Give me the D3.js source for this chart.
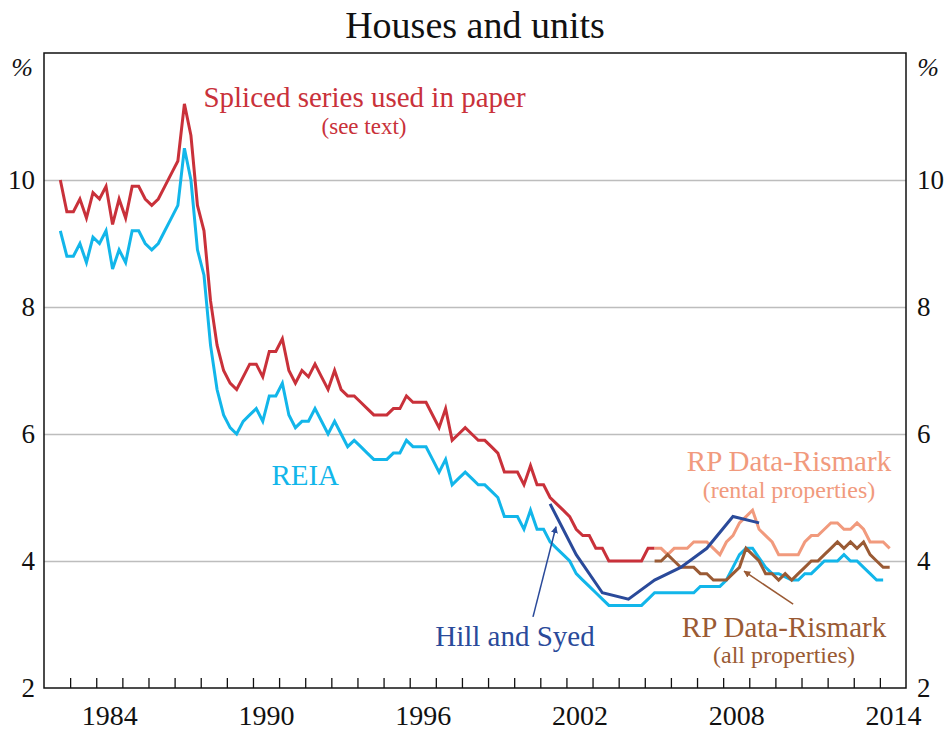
<!DOCTYPE html>
<html>
<head>
<meta charset="utf-8">
<script src="https://cdn.jsdelivr.net/npm/d3@7"></script>
<style>
  html, body { margin: 0; padding: 0; background: #fff; }
  svg { display: block; font-family: "Liberation Serif", "Times New Roman", serif; }
</style>
</head>
<body>
<div id="viz"></div>
<script>
var width = 950,
    height = 731;

var margin = {top: 53, right: 44, bottom: 43, left: 44}; // frame at 44..906, 53..688

// quarterly series, first point is Q3 1982 (plotted mid-quarter)
var splicedStart = 1982.625;
var spliced = [10.0, 9.5, 9.5, 9.7, 9.4, 9.8, 9.7, 9.9, 9.3, 9.7, 9.4, 9.9, 9.9, 9.7, 9.6, 9.7,
    9.9, 10.1, 10.3, 11.2, 10.7, 9.6, 9.2, 8.1, 7.4, 7.0, 6.8, 6.7, 6.9, 7.1, 7.1, 6.9,
    7.3, 7.3, 7.5, 7.0, 6.8, 7.0, 6.9, 7.1, 6.9, 6.7, 7.0, 6.7, 6.6, 6.6, 6.5, 6.4,
    6.3, 6.3, 6.3, 6.4, 6.4, 6.6, 6.5, 6.5, 6.5, 6.3, 6.1, 6.4, 5.9, 6.0, 6.1, 6.0,
    5.9, 5.9, 5.8, 5.7, 5.4, 5.4, 5.4, 5.2, 5.5, 5.2, 5.2, 5.0, 4.9, 4.8, 4.7, 4.5,
    4.4, 4.4, 4.2, 4.2, 4.0, 4.0, 4.0, 4.0, 4.0, 4.0, 4.2, 4.2];

var reiaStart = 1982.625;
var reia = [9.2, 8.8, 8.8, 9.0, 8.7, 9.1, 9.0, 9.2, 8.6, 8.9, 8.7, 9.2, 9.2, 9.0, 8.9, 9.0,
    9.2, 9.4, 9.6, 10.5, 10.0, 8.9, 8.5, 7.4, 6.7, 6.3, 6.1, 6.0, 6.2, 6.3, 6.4, 6.2,
    6.6, 6.6, 6.8, 6.3, 6.1, 6.2, 6.2, 6.4, 6.2, 6.0, 6.2, 6.0, 5.8, 5.9, 5.8, 5.7,
    5.6, 5.6, 5.6, 5.7, 5.7, 5.9, 5.8, 5.8, 5.8, 5.6, 5.4, 5.6, 5.2, 5.3, 5.4, 5.3,
    5.2, 5.2, 5.1, 5.0, 4.7, 4.7, 4.7, 4.5, 4.8, 4.5, 4.5, 4.3, 4.2, 4.1, 4.0, 3.8,
    3.7, 3.6, 3.5, 3.4, 3.3, 3.3, 3.3, 3.3, 3.3, 3.3, 3.4, 3.5, 3.5, 3.5, 3.5, 3.5,
    3.5, 3.5, 3.6, 3.6, 3.6, 3.6, 3.7, 3.9, 4.1, 4.2, 4.2, 4.05, 3.9, 3.8, 3.8, 3.75,
    3.7, 3.7, 3.8, 3.8, 3.9, 4.0, 4.0, 4.0, 4.1, 4.0, 4.0, 3.9, 3.8, 3.7, 3.7];

// RP Data-Rismark, from Q2 2005
var rpStart = 2005.375;
var rpRental = [4.2, 4.2, 4.1, 4.2, 4.2, 4.2, 4.3, 4.3, 4.3, 4.2, 4.1, 4.3, 4.4, 4.6, 4.7, 4.8,
    4.5, 4.4, 4.3, 4.1, 4.1, 4.1, 4.1, 4.3, 4.4, 4.4, 4.5, 4.6, 4.6, 4.5, 4.5, 4.6,
    4.5, 4.3, 4.3, 4.3, 4.2];
var rpAll = [4.0, 4.0, 4.1, 4.0, 3.9, 3.9, 3.9, 3.8, 3.8, 3.7, 3.7, 3.7, 3.8, 3.9, 4.2, 4.1,
    4.0, 3.8, 3.8, 3.7, 3.8, 3.7, 3.8, 3.9, 4.0, 4.0, 4.1, 4.2, 4.3, 4.2, 4.3, 4.2,
    4.3, 4.1, 4.0, 3.9, 3.9];

// Hill and Syed, annual
var hillYears = [2001.375, 2002.375, 2003.375, 2004.375, 2005.375, 2006.375, 2007.375, 2008.375, 2009.375];
var hill = [4.9, 4.1, 3.5, 3.4, 3.7, 3.9, 4.2, 4.7, 4.6];

var yearTicks = d3.range(1983, 2015);
var yearLabels = [1984, 1990, 1996, 2002, 2008, 2014];
var yTicks = [2, 4, 6, 8, 10];
var gridValues = [4, 6, 8, 10];

var colors = {
    spliced: "#c9313a",
    reia: "#12b6ea",
    hill: "#2a4a9a",
    rental: "#f19a7d",
    all: "#9a5a34"
};

function toPoints(start, values) {
    return values.map(function(v, i) { return {t: start + i * 0.25, v: v}; });
}

var svg = d3.select("#viz").append("svg")
    .attr("width", width)
    .attr("height", height);

var x = d3.scaleLinear().domain([1982, 2015]).range([margin.left, width - margin.right]);
var y = d3.scaleLinear().domain([2, 12]).range([height - margin.bottom, margin.top]);

// title
svg.append("text")
    .attr("x", width / 2)
    .attr("y", 38)
    .attr("text-anchor", "middle")
    .attr("font-size", 38)
    .attr("fill", "#111")
    .text("Houses and units");

// horizontal gridlines
svg.append("g")
    .attr("class", "grid")
    .attr("transform", "translate(" + margin.left + ",0)")
    .call(d3.axisLeft(y).tickValues(gridValues).tickSize(-(width - margin.left - margin.right)).tickFormat(""))
    .call(function(g) { g.select(".domain").remove(); })
    .selectAll("line")
    .attr("stroke", "#bdbdbd")
    .attr("stroke-width", 1.5);

// y tick labels both sides
var yLeft = svg.append("g")
    .attr("transform", "translate(" + margin.left + ",0)")
    .call(d3.axisLeft(y).tickValues(yTicks).tickSize(0).tickPadding(9));
var yRight = svg.append("g")
    .attr("transform", "translate(" + (width - margin.right) + ",0)")
    .call(d3.axisRight(y).tickValues(yTicks).tickSize(0).tickPadding(11));
[yLeft, yRight].forEach(function(g) {
    g.select(".domain").remove();
    g.selectAll("text")
        .attr("font-family", "Liberation Serif, serif")
        .attr("font-size", 27)
        .attr("fill", "#111");
});

svg.append("text").attr("x", 22).attr("y", 76).attr("text-anchor", "middle")
    .attr("font-size", 26).attr("font-style", "italic").attr("fill", "#111").text("%");
svg.append("text").attr("x", 928).attr("y", 76).attr("text-anchor", "middle")
    .attr("font-size", 26).attr("font-style", "italic").attr("fill", "#111").text("%");

// x ticks (inside, pointing up)
var xTicks = svg.append("g")
    .attr("transform", "translate(0," + (height - margin.bottom) + ")")
    .call(d3.axisBottom(x).tickValues(yearTicks).tickSize(-10).tickFormat(""));
xTicks.select(".domain").remove();
xTicks.selectAll("line").attr("stroke", "#111").attr("stroke-width", 1.3);

// year labels centred in the year
var xLab = svg.append("g")
    .attr("transform", "translate(0," + (height - margin.bottom) + ")")
    .call(d3.axisBottom(x).tickValues(yearLabels.map(function(d) { return d + 0.5; }))
        .tickSize(0).tickPadding(17).tickFormat(function(d) { return Math.floor(d); }));
xLab.select(".domain").remove();
xLab.selectAll("text")
    .attr("font-family", "Liberation Serif, serif")
    .attr("font-size", 28)
    .attr("fill", "#111");

// lines
var line = d3.line()
    .x(function(d) { return x(d.t); })
    .y(function(d) { return y(d.v); });

var series = [
    {key: "reia", data: toPoints(reiaStart, reia)},
    {key: "spliced", data: toPoints(splicedStart, spliced)},
    {key: "rental", data: toPoints(rpStart, rpRental)},
    {key: "all", data: toPoints(rpStart, rpAll)},
    {key: "hill", data: hillYears.map(function(t, i) { return {t: t, v: hill[i]}; })}
];

svg.append("g")
    .attr("class", "lines")
    .selectAll("path")
    .data(series)
    .enter().append("path")
    .attr("d", function(d) { return line(d.data); })
    .attr("fill", "none")
    .attr("stroke", function(d) { return colors[d.key]; })
    .attr("stroke-width", 3)
    .attr("stroke-linejoin", "miter");

// frame
svg.append("rect")
    .attr("x", margin.left)
    .attr("y", margin.top)
    .attr("width", width - margin.left - margin.right)
    .attr("height", height - margin.top - margin.bottom)
    .attr("fill", "none")
    .attr("stroke", "#111")
    .attr("stroke-width", 1.5);

// arrow markers
var defs = svg.append("defs");
["hill", "all"].forEach(function(k) {
    defs.append("marker")
        .attr("id", "arrow-" + k)
        .attr("viewBox", "0 -5 10 10")
        .attr("refX", 9)
        .attr("refY", 0)
        .attr("markerWidth", 7)
        .attr("markerHeight", 7)
        .attr("markerUnits", "userSpaceOnUse")
        .attr("orient", "auto")
        .append("path")
        .attr("d", "M0,-5L10,0L0,5Z")
        .attr("fill", colors[k]);
});

var arrows = [
    {key: "hill", from: [2000.72, 3.12], to: [2001.6, 4.54]},
    {key: "all", from: [2010.68, 3.32], to: [2008.8, 3.84]}
];
svg.append("g").selectAll("line")
    .data(arrows)
    .enter().append("line")
    .attr("x1", function(d) { return x(d.from[0]); })
    .attr("y1", function(d) { return y(d.from[1]); })
    .attr("x2", function(d) { return x(d.to[0]); })
    .attr("y2", function(d) { return y(d.to[1]); })
    .attr("stroke", function(d) { return colors[d.key]; })
    .attr("stroke-width", 1.5)
    .attr("marker-end", function(d) { return "url(#arrow-" + d.key + ")"; });

// series labels
var labels = [
    {key: "spliced", text: "Spliced series used in paper", t: 1994.27, v: 11.15, size: 29},
    {key: "spliced", text: "(see text)", t: 1994.25, v: 10.72, size: 23},
    {key: "reia", text: "REIA", t: 1992.0, v: 5.2, size: 29},
    {key: "hill", text: "Hill and Syed", t: 2000.03, v: 2.66, size: 29},
    {key: "rental", text: "RP Data-Rismark", t: 2010.52, v: 5.41, size: 29},
    {key: "rental", text: "(rental properties)", t: 2010.52, v: 5.0, size: 24},
    {key: "all", text: "RP Data-Rismark", t: 2010.33, v: 2.81, size: 29},
    {key: "all", text: "(all properties)", t: 2010.33, v: 2.4, size: 24}
];
svg.append("g").selectAll("text")
    .data(labels)
    .enter().append("text")
    .attr("x", function(d) { return x(d.t); })
    .attr("y", function(d) { return y(d.v); })
    .attr("text-anchor", "middle")
    .attr("font-size", function(d) { return d.size; })
    .attr("fill", function(d) { return colors[d.key]; })
    .text(function(d) { return d.text; });
</script>
</body>
</html>
